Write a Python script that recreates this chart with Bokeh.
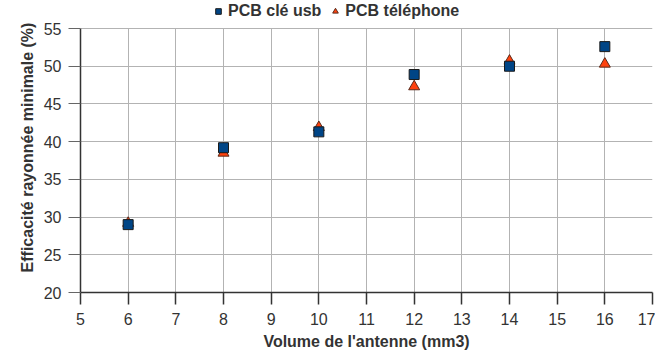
from bokeh.plotting import figure
from bokeh.models import Legend, LegendItem, FixedTicker, Range1d, Title
from bokeh.embed import file_html
from bokeh.resources import INLINE

volume = [6, 8, 10, 12, 14, 16]
pcb_usb = [29.0, 39.2, 41.3, 48.9, 50.0, 52.6]
pcb_tel = [29.2, 38.5, 41.9, 47.3, 50.7, 50.3]
x_ticks = list(range(5, 18))
y_ticks = list(range(20, 56, 5))
Y_MIN, Y_MAX = 20, 55
x_label = "Volume de l'antenne (mm3)"
y_label = "Efficacité rayonnée minimale (%)"

FONT = "Liberation Sans"

# frame extends above 55 to leave room for the legend inside the canvas
p = figure(width=655, height=356, output_backend="svg", toolbar_location=None,
           x_range=Range1d(5, 17), y_range=Range1d(Y_MIN, 58.45),
           min_border_left=80, min_border_right=3, min_border_top=2, min_border_bottom=64)
p.outline_line_color = None
p.background_fill_color = "white"
p.border_fill_color = "white"

for ax in (p.xaxis[0], p.yaxis[0]):
    ax.axis_line_color = "#333333"
    ax.axis_line_width = 1.5
    ax.major_tick_line_color = "#333333"
    ax.major_tick_line_width = 1.5
    ax.minor_tick_line_color = None
    ax.major_tick_in = 0
    ax.major_label_text_font = FONT
    ax.major_label_text_font_size = "16px"
    ax.major_label_text_color = "#333333"

p.xaxis.ticker = FixedTicker(ticks=x_ticks)
p.yaxis.ticker = FixedTicker(ticks=y_ticks)
p.yaxis.bounds = (Y_MIN, Y_MAX)
p.xaxis.major_tick_out = 12
p.yaxis.major_tick_out = 12
p.yaxis[0].major_tick_line_color = "#666666"
p.yaxis[0].major_tick_line_width = 1
p.xaxis.major_label_standoff = 8
p.yaxis.major_label_standoff = 7

# axis titles (placed as side titles so they can be offset like the reference)
p.add_layout(Title(text=x_label, align="center", offset=24, standoff=6,
                   text_font=FONT, text_font_size="16px", text_font_style="bold",
                   text_color="#333333"), "below")
p.add_layout(Title(text=y_label, align="center", offset=-33, standoff=10,
                   text_font=FONT, text_font_size="16px", text_font_style="bold",
                   text_color="#333333"), "left")

p.xgrid.ticker = FixedTicker(ticks=x_ticks)
p.ygrid.ticker = FixedTicker(ticks=y_ticks)
p.grid.grid_line_color = "#b3b3b3"
p.grid.grid_line_width = 1
if hasattr(p.xgrid[0], "cross_bounds"):
    p.xgrid.cross_bounds = (Y_MIN, Y_MAX)
else:
    p.xgrid.grid_line_color = None
    p.segment(x0=x_ticks, y0=[Y_MIN] * len(x_ticks), x1=x_ticks, y1=[Y_MAX] * len(x_ticks),
              line_color="#b3b3b3", line_width=1, level="underlay")

r_tel = p.scatter(volume, pcb_tel, marker="triangle", size=11, fill_color="#ff420e",
                  line_color="#5a2a1a", line_width=1)
r_usb = p.scatter(volume, pcb_usb, marker="square", size=10, fill_color="#004586",
                  line_color="#1a1a1a", line_width=1)

legend = Legend(items=[LegendItem(label="PCB clé usb", renderers=[r_usb]),
                       LegendItem(label="PCB téléphone", renderers=[r_tel])],
                orientation="horizontal", location=(131, 272),
                label_text_font=FONT, label_text_font_size="16px",
                label_text_font_style="bold", label_text_color="#333333",
                glyph_width=14, glyph_height=14, label_height=16,
                padding=0, margin=0, spacing=7, label_standoff=3,
                border_line_color=None, background_fill_alpha=0)
p.add_layout(legend, "center")

open("out.html", "w").write(file_html(p, INLINE))
